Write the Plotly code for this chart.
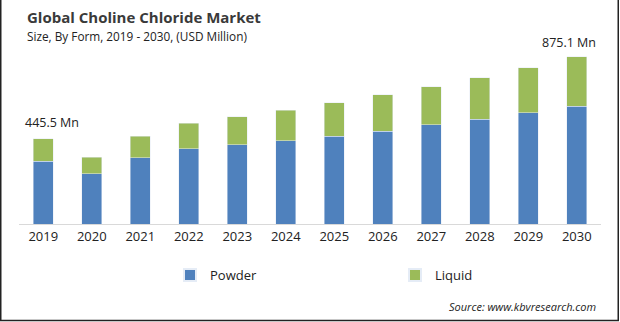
import plotly.graph_objects as go

years = ["2019", "2020", "2021", "2022", "2023", "2024", "2025", "2026", "2027", "2028", "2029", "2030"]
powder = [330, 262, 346, 393, 414, 435, 461, 487, 519, 550, 582, 618]
liquid = [115.5, 89, 115, 136, 147, 162, 173, 189, 199, 215, 236, 257.1]
labels = {"2019": "445.5 Mn", "2030": "875.1 Mn"}
label_shift = {"2019": (9, 6), "2030": (-8, 4)}

W, H = 620, 322
L, R, T, B = 19, 19, 40, 98
pw, ph = W - L - R, H - T - B

def px(x):
    return (x - L) / pw

def py(y):
    return (H - B - y) / ph

fig = go.Figure()
fig.add_trace(go.Bar(x=years, y=powder, name="Powder", marker_color="#4f81bd", width=0.41, legend="legend"))
fig.add_trace(go.Bar(x=years, y=liquid, name="Liquid", marker_color="#9bbb59", width=0.41, legend="legend2"))

annotations = [
    dict(text="<b>Global Choline Chloride Market</b>", x=px(25), y=py(17), xref="paper", yref="paper",
         xanchor="left", yanchor="middle", showarrow=False, font=dict(size=15, color="#3a3a3a", family="Open Sans")),
    dict(text="Size, By Form, 2019 - 2030, (USD Million)", x=px(25), y=py(36), xref="paper", yref="paper",
         xanchor="left", yanchor="middle", showarrow=False, font=dict(size=11.8, color="#222", family="Open Sans")),
    dict(text="<i>Source: www.kbvresearch.com</i>", x=px(598), y=py(306), xref="paper", yref="paper",
         xanchor="right", yanchor="middle", showarrow=False, font=dict(size=11, color="#222", family="Open Sans")),
]
for yr, txt in labels.items():
    i = years.index(yr)
    total = powder[i] + liquid[i]
    dx, dy = label_shift[yr]
    annotations.append(dict(text=txt, x=i, y=total, xref="x", yref="y", yanchor="bottom",
                            showarrow=False, xshift=dx, yshift=dy,
                            font=dict(size=12.5, color="#222", family="Open Sans")))

shapes = [
    dict(type="rect", xref="paper", yref="paper", layer="above",
         x0=px(0.75), x1=px(618.25), y0=py(-3), y1=py(320.5),
         line=dict(color="#222", width=1.5), fillcolor="rgba(0,0,0,0)"),
]

leg_style = dict(orientation="h", y=py(275), xanchor="left", yanchor="middle",
                 font=dict(size=13, color="#222"), itemsizing="constant",
                 bgcolor="rgba(0,0,0,0)", borderwidth=0)

fig.update_layout(
    width=W, height=H,
    margin=dict(l=L, r=R, t=T, b=B, autoexpand=False),
    barmode="stack",
    bargap=0.59,
    paper_bgcolor="white", plot_bgcolor="white",
    font=dict(family="Open Sans", color="#222"),
    showlegend=True,
    legend=dict(x=px(170), **leg_style),
    legend2=dict(x=px(395), **leg_style),
    annotations=annotations,
    shapes=shapes,
    xaxis=dict(type="category", range=[-0.5, len(years) - 0.5], showline=True, linecolor="#d9d9d9", linewidth=1,
               ticks="", tickfont=dict(size=13, color="#222"), showgrid=False, fixedrange=True),
    yaxis=dict(range=[0, 964], visible=False, showgrid=False, fixedrange=True),
)

fig.write_html("out.html", config={"displayModeBar": False})
